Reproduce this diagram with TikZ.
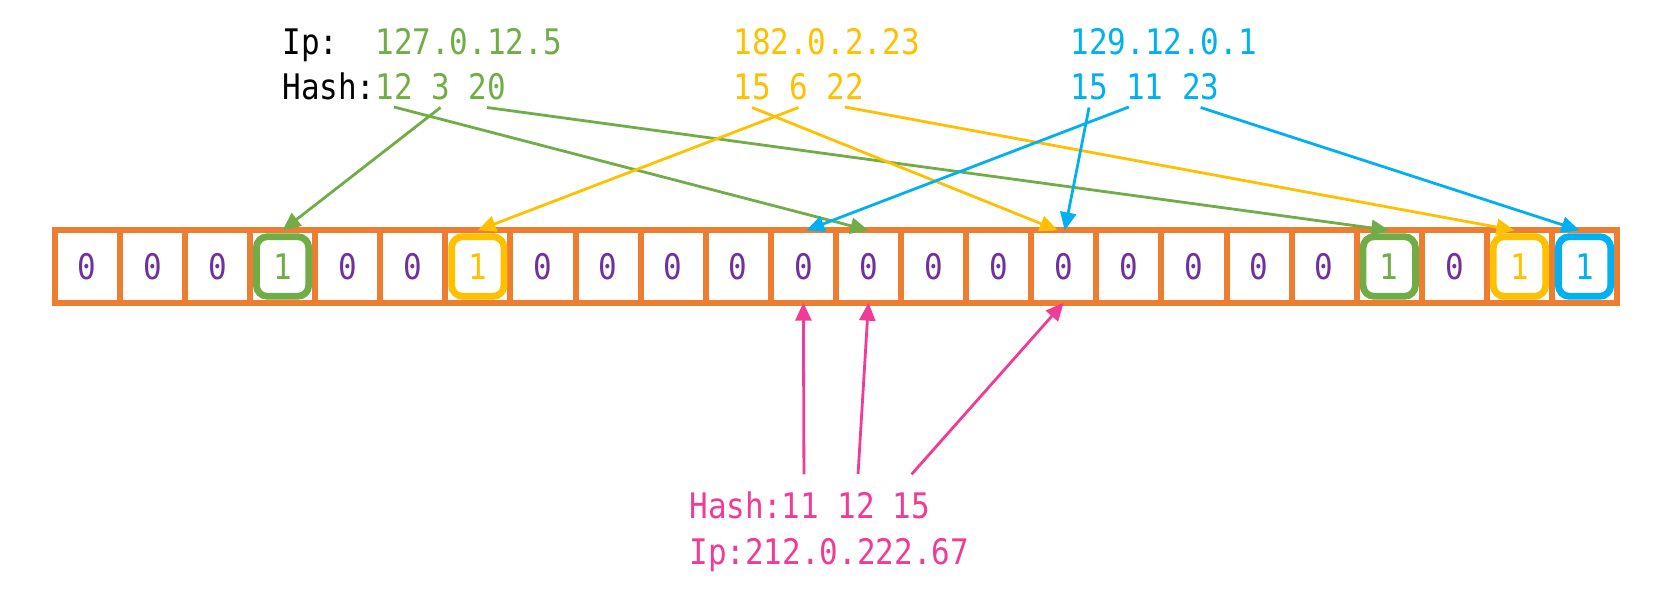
\documentclass[tikz,border=0pt]{standalone}
\usepackage{fontspec}
\newfontfamily\hashfont[FakeStretch=0.88]{DejaVu Sans Mono}
\usetikzlibrary{arrows.meta}
\definecolor{hgreen}{HTML}{70AD47}
\definecolor{hgold}{HTML}{FFC000}
\definecolor{hblue}{HTML}{00B0F0}
\definecolor{horange}{HTML}{ED7D31}
\definecolor{hpurple}{HTML}{7030A0}
\definecolor{hpink}{HTML}{F03C96}

\begin{document}
\begin{tikzpicture}[x=0.5pt, y=-0.5pt,
    every node/.style={font=\hashfont\fontsize{17.6pt}{20pt}\selectfont},
    txt/.style={anchor=base west, inner sep=0pt},
    num/.style={txt, outer ysep=3.5pt, text=#1},
    pnum/.style={txt, outer ysep=9pt, text=hpink},
    cell/.style={draw=horange, line width=3pt, minimum width=32.55pt, minimum height=36.15pt, inner sep=0pt, outer sep=0pt},
    zero/.style={text=hpurple},
    one/.style={draw=#1, text=#1, line width=3.4pt, rounded corners=5.5pt, minimum width=26.2pt, minimum height=29.8pt, inner sep=0pt},
    hash/.style={-{Triangle[length=9pt,width=8pt]}, line width=1.4pt, draw=#1},
]
    \useasboundingbox (0,0) rectangle (1666,593);

    % Bit array
    \foreach \i in {0,...,23} {
        \node[cell] (c\i) at ({54.7+65.1*(\i+0.5)},266.5) {};
    }
    \foreach \i in {0,1,2,4,5,7,8,...,19,21} {
        \node[zero] at (c\i) {0};
    }
    \foreach \i/\col in {3/hgreen, 6/hgold, 20/hgreen, 22/hgold, 23/hblue} {
        \node[one=\col] at (c\i) {1};
    }

    % Inserted keys
    \node[txt] (ipl) at (282,55) {Ip:};
    \node[txt] (hashl) at (282,100) {Hash:};
    \node[txt, text=hgreen] (gip) at (375,55) {127.0.12.5};
    \node[num=hgreen] (g12) at (375,100) {12};
    \node[num=hgreen] (g3) at (430.8,100) {3};
    \node[num=hgreen] (g20) at (468,100) {20};

    \node[txt, text=hgold] (yip) at (733,55) {182.0.2.23};
    \node[num=hgold] (y15) at (733,100) {15};
    \node[num=hgold] (y6) at (788.8,100) {6};
    \node[num=hgold] (y22) at (826,100) {22};

    \node[txt, text=hblue] (bip) at (1070,55) {129.12.0.1};
    \node[num=hblue] (b15) at (1070,100) {15};
    \node[num=hblue] (b11) at (1125.8,100) {11};
    \node[num=hblue] (b23) at (1181.6,100) {23};

    % Queried key
    \node[txt, text=hpink] (phash) at (689,518) {Hash:};
    \node[pnum] (p11) at (781.5,518) {11};
    \node[pnum] (p12) at (837,518) {12};
    \node[pnum] (p15) at (892.5,518) {15};
    \node[txt, text=hpink] (pip) at (689,564) {Ip:212.0.222.67};

    % Hash arrows
    \draw[hash=hgreen] (g12.south) -- (c12.north);
    \draw[hash=hgreen] (g3.south) -- (c3.north);
    \draw[hash=hgreen] (g20.south) -- (c20.north);

    \draw[hash=hgold] (y15.south) -- ([xshift=-3pt]c15.north);
    \draw[hash=hgold] (y6.south) -- (c6.north);
    \draw[hash=hgold] (y22.south) -- ([xshift=-2.5pt]c22.north);

    \draw[hash=hblue] (b15.south) -- ([xshift=0.5pt]c15.north);
    \draw[hash=hblue] ([xshift=1.5pt]b11.south west) -- ([xshift=1.5pt]c11.north);
    \draw[hash=hblue] (b23.south) -- ([xshift=-2.5pt]c23.north);

    \draw[hash=hpink] ([xshift=1.7pt]p11.north) -- (c11.south);
    \draw[hash=hpink] ([xshift=1pt]p12.north) -- (c12.south);
    \draw[hash=hpink] (p15.north) -- (c15.south);
\end{tikzpicture}
\end{document}
